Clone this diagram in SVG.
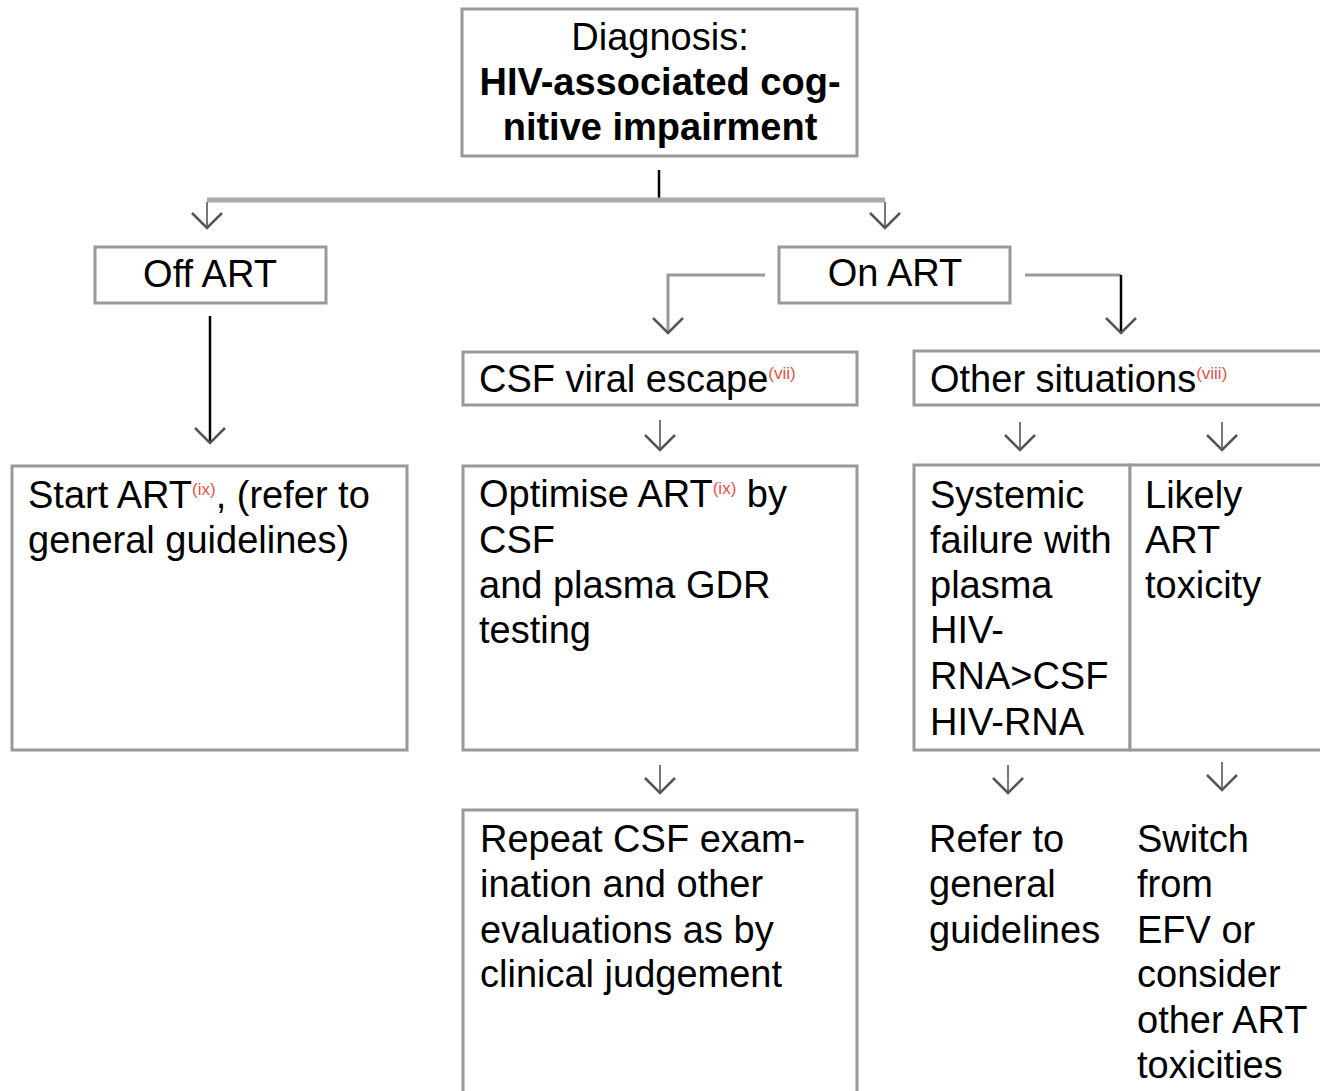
<svg xmlns="http://www.w3.org/2000/svg" width="1320" height="1091" viewBox="0 0 1320 1091">
<style>
.box{fill:#fff;stroke:#999;stroke-width:3}
.t{font-family:"Liberation Sans",Arial,sans-serif;font-size:38px;fill:#000}
.b{font-weight:bold}
.sup{font-size:17px;fill:#e8504a}
.c{fill:none;stroke:#999;stroke-width:3}
.k{fill:none;stroke:#000;stroke-width:2.5}
.g{fill:none;stroke:#777;stroke-width:2}
</style>
<defs>
<marker id="chev" markerUnits="userSpaceOnUse" markerWidth="34" markerHeight="34" viewBox="-2 -2 34 34" refX="15" refY="15" orient="auto">
<path d="M0,0 L15,15 L0,30" fill="none" stroke="#555" stroke-width="2.5"/>
</marker>
</defs>
<rect width="1320" height="1091" fill="#fff"/>
<g id="connectors">
<line class="k" x1="659" y1="170" x2="659" y2="199"/>
<line x1="207" y1="200" x2="885" y2="200" stroke="#aaa" stroke-width="5"/>
<line class="g" x1="207" y1="202" x2="207" y2="228" marker-end="url(#chev)"/>
<line class="g" x1="885" y1="202" x2="885" y2="228" marker-end="url(#chev)"/>
<line class="k" x1="210" y1="316" x2="210" y2="443" marker-end="url(#chev)"/>
<polyline class="c" points="765,275 668,275 668,333" marker-end="url(#chev)"/>
<polyline class="c" points="1025,275 1121,275"/>
<line class="k" x1="1121" y1="275" x2="1121" y2="333" marker-end="url(#chev)"/>
<line class="g" x1="660" y1="420" x2="660" y2="450" marker-end="url(#chev)"/>
<line class="g" x1="1020" y1="422" x2="1020" y2="450" marker-end="url(#chev)"/>
<line class="g" x1="1222" y1="422" x2="1222" y2="450" marker-end="url(#chev)"/>
<line class="g" x1="660" y1="765" x2="660" y2="793" marker-end="url(#chev)"/>
<line class="g" x1="1008" y1="765" x2="1008" y2="793" marker-end="url(#chev)"/>
<line class="g" x1="1222" y1="762" x2="1222" y2="790" marker-end="url(#chev)"/>
</g>
<g id="diagnosis">
<rect class="box" x="462" y="9" width="395" height="147"/>
<text class="t" x="660" y="50" text-anchor="middle">Diagnosis:</text>
<text class="t b" x="660" y="95" text-anchor="middle">HIV-associated cog-</text>
<text class="t b" x="660" y="140" text-anchor="middle">nitive impairment</text>
</g>
<g id="off-art">
<rect class="box" x="95" y="247" width="231" height="56"/>
<text class="t" x="210" y="287" text-anchor="middle">Off ART</text>
</g>
<g id="on-art">
<rect class="box" x="779" y="247" width="231" height="56"/>
<text class="t" x="895" y="286" text-anchor="middle">On ART</text>
</g>
<g id="start-art">
<rect class="box" x="12" y="466" width="395" height="284"/>
<text class="t" x="28" y="508">Start ART<tspan class="sup" dy="-13">(ix)</tspan><tspan dy="13">, (refer to</tspan></text>
<text class="t" x="28" y="553">general guidelines)</text>
</g>
<g id="csf-viral-escape">
<rect class="box" x="463" y="352" width="394" height="53"/>
<text class="t" x="479" y="392">CSF viral escape<tspan class="sup" dy="-13">(vii)</tspan></text>
</g>
<g id="other-situations">
<rect class="box" x="914" y="351" width="420" height="54"/>
<text class="t" x="930" y="392">Other situations<tspan class="sup" dy="-13">(viii)</tspan></text>
</g>
<g id="optimise-art">
<rect class="box" x="463" y="466" width="394" height="284"/>
<text class="t" x="479" y="507">Optimise ART<tspan class="sup" dy="-13">(ix)</tspan><tspan dy="13"> by</tspan></text>
<text class="t" x="479" y="553">CSF</text>
<text class="t" x="479" y="598">and plasma GDR</text>
<text class="t" x="479" y="643">testing</text>
</g>
<g id="systemic-failure">
<rect class="box" x="914" y="465" width="216" height="285"/>
<text class="t" x="930" y="508">Systemic</text>
<text class="t" x="930" y="553">failure with</text>
<text class="t" x="930" y="598">plasma</text>
<text class="t" x="930" y="643">HIV-</text>
<text class="t" x="930" y="689">RNA&gt;CSF</text>
<text class="t" x="930" y="735">HIV-RNA</text>
</g>
<g id="likely-toxicity">
<rect class="box" x="1130" y="465" width="210" height="285"/>
<text class="t" x="1145" y="508">Likely</text>
<text class="t" x="1145" y="553">ART</text>
<text class="t" x="1145" y="598">toxicity</text>
</g>
<g id="repeat-csf">
<rect class="box" x="463" y="810" width="394" height="300"/>
<text class="t" x="480" y="852">Repeat CSF exam-</text>
<text class="t" x="480" y="897">ination and other</text>
<text class="t" x="480" y="943">evaluations as by</text>
<text class="t" x="480" y="987">clinical judgement</text>
</g>
<g id="refer-general">
<text class="t" x="929" y="852">Refer to</text>
<text class="t" x="929" y="897">general</text>
<text class="t" x="929" y="943">guidelines</text>
</g>
<g id="switch-efv">
<text class="t" x="1137" y="852">Switch</text>
<text class="t" x="1137" y="897">from</text>
<text class="t" x="1137" y="943">EFV or</text>
<text class="t" x="1137" y="987">consider</text>
<text class="t" x="1137" y="1033">other ART</text>
<text class="t" x="1137" y="1078">toxicities</text>
</g>
</svg>
